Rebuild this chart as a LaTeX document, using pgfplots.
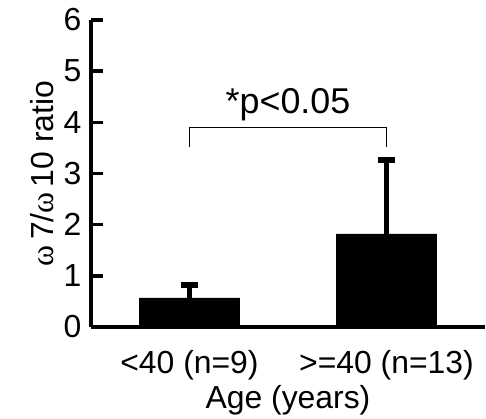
\documentclass[border=0pt]{standalone}
\usepackage{pgfplots}
\pgfplotsset{compat=1.18}
\usepackage{fontspec}
\setmainfont{Liberation Sans}
\newfontfamily\greekfont{Liberation Serif}
\begin{document}
\begin{tikzpicture}
\begin{axis}[
  scale only axis, width=394bp, height=307bp,
  xmin=0, xmax=2, ymin=0, ymax=6,
  axis x line*=bottom, axis y line*=left,
  axis line style={line width=3.5bp, black},
  ytick={0,1,2,3,4,5,6},
  xtick={0.5,1.5},
  xticklabels={{<40 (n=9)},{>=40 (n=13)}},
  x tick style={draw=none},
  extra x ticks={1,2}, extra x tick labels={},
  extra x tick style={major tick length=12bp, tick style={line width=3bp, black}},
  tick align=inside, major tick length=12bp,
  y tick style={line width=3.5bp, black},
  /pgf/number format/assume math mode=true,
  ticklabel style={font=\fontsize{32}{36}\selectfont},
  xlabel style={font=\fontsize{32}{36}\selectfont, yshift=2bp},
  ylabel style={font=\fontsize{32}{36}\selectfont, yshift=3bp},
  yticklabel style={xshift=-6bp},
  xticklabel style={yshift=-20bp},
  xlabel={Age (years)},
  ylabel={{\greekfont ω}\,7/{\greekfont ω}\,10 ratio},
  clip=false,
]
\coordinate (O) at (rel axis cs:0,0);
\coordinate (T) at (rel axis cs:1,1);
\addplot[ybar, fill=black, draw=black, bar width=100bp,
  error bars/.cd, y dir=plus, y explicit,
  error bar style={line width=5bp, black},
  error mark options={rotate=90, mark size=8.5bp, line width=6bp, black}]
  coordinates {(0.5,0.57) +- (0,0.25) (1.5,1.82) +- (0,1.44)};
\addplot[black, line width=1.3bp, mark=none]
  coordinates {(0.5,3.52) (0.5,3.9) (1.5,3.9) (1.5,3.52)};
\node[font=\fontsize{36}{40}\selectfont] at (axis cs:1,4.34) {*p<0.05};
\end{axis}
\pgfresetboundingbox
\path ([xshift=-91bp,yshift=-92bp]O) rectangle ([xshift=1bp,yshift=20bp]T);
\end{tikzpicture}
\end{document}
